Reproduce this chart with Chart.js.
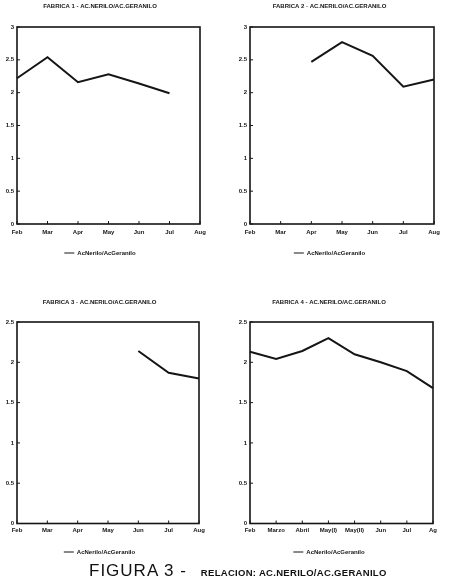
<!DOCTYPE html>
<html>
<head>
<meta charset="utf-8">
<script src="https://cdn.jsdelivr.net/npm/chart.js@4"></script>
<style>
  html, body { margin: 0; padding: 0; background: #fff; }
  body { width: 450px; height: 586px; position: relative; overflow: hidden; }
  .panel { position: absolute; }
  #caption { position: absolute; left: 89px; top: 561px; white-space: nowrap; color: #111;
             font-family: "Liberation Sans", sans-serif; }
  #caption .big { font-size: 17px; letter-spacing: 1px; }
  #caption .small { font-size: 9.5px; font-weight: bold; margin-left: 14px; letter-spacing: 0.3px; }
</style>
</head>
<body>
<div class="panel" style="left:0;top:0;width:225px;height:266px"><canvas id="c1"></canvas></div>
<div class="panel" style="left:225px;top:0;width:225px;height:266px"><canvas id="c2"></canvas></div>
<div class="panel" style="left:0;top:286px;width:225px;height:279px"><canvas id="c3"></canvas></div>
<div class="panel" style="left:225px;top:286px;width:225px;height:279px"><canvas id="c4"></canvas></div>
<div id="caption"><span class="big">FIGURA 3 -</span><span class="small">RELACION: AC.NERILO/AC.GERANILO</span></div>

<script>
// --- datos ---
const meses = ['Feb', 'Mar', 'Apr', 'May', 'Jun', 'Jul', 'Aug'];
const meses4 = ['Feb', 'Marzo', 'Abril', 'May(I)', 'May(II)', 'Jun', 'Jul', 'Ag'];

const fabrica1 = [2.22, 2.54, 2.16, 2.28, 2.14, 1.99, null];
const fabrica2 = [null, null, 2.47, 2.77, 2.56, 2.09, 2.20];
const fabrica3 = [null, null, null, null, 2.14, 1.87, 1.80];
const fabrica4 = [2.13, 2.04, 2.14, 2.30, 2.10, 2.00, 1.89, 1.68];

const titulos = [
    'FABRICA 1 - AC.NERILO/AC.GERANILO',
    'FABRICA 2 - AC.NERILO/AC.GERANILO',
    'FABRICA 3 - AC.NERILO/AC.GERANILO',
    'FABRICA 4 - AC.NERILO/AC.GERANILO'
];
const leyenda = 'AcNerilo/AcGeranilo';

const INK = '#151515';
const FONT = '"Liberation Sans", Arial, sans-serif';

// marco completo + marcas de tick hacia dentro
const marcoPlugin = {
    id: 'marco',
    afterDraw(chart) {
        const { ctx, chartArea: a, scales } = chart;
        ctx.save();
        ctx.strokeStyle = INK;
        ctx.lineWidth = 1.6;
        ctx.strokeRect(a.left, a.top, a.right - a.left, a.bottom - a.top);
        ctx.lineWidth = 1;
        ctx.beginPath();
        scales.x.ticks.forEach((t, i) => {
            const px = scales.x.getPixelForTick(i);
            ctx.moveTo(px, a.bottom);
            ctx.lineTo(px, a.bottom - 3);
        });
        scales.y.ticks.forEach((t, i) => {
            const py = scales.y.getPixelForTick(i);
            ctx.moveTo(a.left, py);
            ctx.lineTo(a.left + 3, py);
        });
        ctx.stroke();
        ctx.restore();
    }
};

function crearGrafico(id, etiquetas, valores, titulo, yMax, o) {
    return new Chart(document.getElementById(id), {
        type: 'line',
        data: {
            labels: etiquetas,
            datasets: [{
                label: leyenda,
                data: valores,
                borderColor: INK,
                backgroundColor: INK,
                borderWidth: 2,
                pointRadius: 0,
                tension: 0,
                fill: false
            }]
        },
        options: {
            responsive: true,
            maintainAspectRatio: false,
            animation: false,
            layout: { padding: { left: 0, right: o.padRight, top: 0, bottom: 0 } },
            plugins: {
                title: {
                    display: true,
                    text: titulo,
                    color: INK,
                    font: { family: FONT, size: 6, weight: 'bold' },
                    padding: { top: o.titleTop, bottom: o.titleBottom }
                },
                legend: {
                    display: true,
                    position: 'bottom',
                    labels: {
                        color: INK,
                        font: { family: FONT, size: 6, weight: 'bold' },
                        usePointStyle: true,
                        pointStyle: 'line',
                        pointStyleWidth: 10,
                        padding: o.legendPad,
                        generateLabels(chart) {
                            const items = Chart.defaults.plugins.legend.labels.generateLabels(chart);
                            items.forEach(it => { it.lineWidth = 1; it.pointStyle = 'line'; });
                            return items;
                        }
                    }
                },
                tooltip: { enabled: false }
            },
            scales: {
                x: {
                    grid: { display: false, drawTicks: false },
                    border: { display: false },
                    offset: false,
                    ticks: {
                        color: INK,
                        padding: o.xPad,
                        maxRotation: 0,
                        autoSkip: false,
                        font: { family: FONT, size: 6, weight: 'bold' }
                    }
                },
                y: {
                    min: 0,
                    max: yMax,
                    grid: { display: false, drawTicks: false },
                    border: { display: false },
                    ticks: {
                        stepSize: 0.5,
                        color: INK,
                        padding: 3,
                        font: { family: FONT, size: 6, weight: 'bold' },
                        callback: (v) => String(v)
                    },
                    afterFit(scale) { scale.width = o.yWidth; }
                }
            }
        },
        plugins: [marcoPlugin]
    });
}

crearGrafico('c1', meses, fabrica1, titulos[0], 3,
    { padRight: 25, yWidth: 17, titleTop: 2.4, titleBottom: 17.4, xPad: 5, legendPad: 8.8 });
crearGrafico('c2', meses, fabrica2, titulos[1], 3,
    { padRight: 16, yWidth: 25, titleTop: 2.4, titleBottom: 17.4, xPad: 5, legendPad: 8.8 });
crearGrafico('c3', meses, fabrica3, titulos[2], 2.5,
    { padRight: 26, yWidth: 17, titleTop: 12.4, titleBottom: 16.4, xPad: 3, legendPad: 12.3 });
crearGrafico('c4', meses4, fabrica4, titulos[3], 2.5,
    { padRight: 17, yWidth: 25, titleTop: 12.4, titleBottom: 16.4, xPad: 3, legendPad: 12.3 });
</script>
</body>
</html>
